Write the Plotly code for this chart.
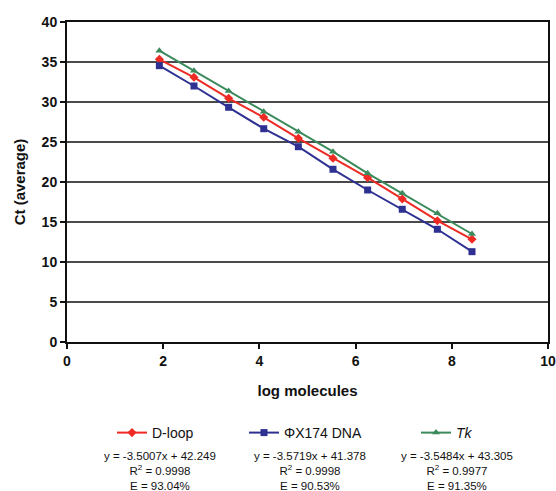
import plotly.graph_objects as go

log_molecules = [1.92, 2.64, 3.36, 4.09, 4.81, 5.53, 6.25, 6.97, 7.70, 8.42]
dloop_ct = [35.34, 33.09, 30.46, 28.09, 25.46, 22.96, 20.54, 17.88, 15.16, 12.84]
phix_ct = [34.54, 32.00, 29.34, 26.66, 24.41, 21.59, 19.00, 16.59, 14.09, 11.29]
tk_ct = [36.42, 33.92, 31.38, 28.79, 26.29, 23.79, 21.09, 18.59, 16.09, 13.50]

series_names = ["D-loop", "ΦX174 DNA", "<i>Tk</i>"]
equations = ["y = -3.5007x + 42.249", "y = -3.5719x + 41.378", "y = -3.5484x + 43.305"]
r2_values = ["0.9998", "0.9998", "0.9977"]
efficiencies = ["93.04%", "90.53%", "91.35%"]

colors = ["#ee2a24", "#2e3192", "#3a8a5c"]
symbols = ["diamond", "square", "triangle-up"]
values = [dloop_ct, phix_ct, tk_ct]
legend_ids = ["legend", "legend2", "legend3"]

W, H = 556, 491
# plot area in page pixels: left 67, right 548, top 22, bottom 342
L, R, T, B = 67, 556 - 548, 22, 491 - 342
PL, PT = 67, 22
pw, ph = 548 - 67, 342 - 22

def px_x(p):
    return (p - PL) / pw

def px_y(p):
    return 1 - (p - PT) / ph

fig = go.Figure()
for name, ys, c, s, lg in zip(series_names, values, colors, symbols, legend_ids):
    fig.add_trace(go.Scatter(
        x=log_molecules, y=ys, mode="lines+markers", name=name,
        line=dict(color=c, width=2),
        marker=dict(color=c, symbol=s, size=7),
        legend=lg,
    ))

legend_left = [112, 244, 416]
legend_common = dict(orientation="h", yanchor="middle", xanchor="left",
                     font=dict(family="Liberation Sans, Arial", size=14, color="#111"),
                     bgcolor="rgba(0,0,0,0)", borderwidth=0)
fig.update_layout(
    legend=dict(x=px_x(legend_left[0]), y=px_y(433), **legend_common),
    legend2=dict(x=px_x(legend_left[1]), y=px_y(433), **legend_common),
    legend3=dict(x=px_x(legend_left[2]), y=px_y(433), **legend_common),
)

eq_centers = [160, 310, 457]
for cx, eq, r2, e in zip(eq_centers, equations, r2_values, efficiencies):
    txt = eq + "<br>R<sup>2</sup> = " + r2 + "<br>E = " + e
    fig.add_annotation(x=px_x(cx), y=px_y(471), xref="paper", yref="paper",
                       text=txt, showarrow=False, xanchor="center", yanchor="middle",
                       align="center",
                       font=dict(family="Liberation Sans, Arial", size=11.5, color="#111"))

fig.update_layout(
    width=W, height=H,
    margin=dict(l=L, r=R, t=T, b=B, autoexpand=False),
    plot_bgcolor="white", paper_bgcolor="white",
    showlegend=True,
    font=dict(family="Liberation Sans, Arial", color="#111"),
)
fig.update_xaxes(
    range=[0, 10], dtick=2, tick0=0,
    showline=True, linecolor="#111", linewidth=2, mirror=True,
    ticks="outside", ticklen=5, tickwidth=2, tickcolor="#111",
    showgrid=False, zeroline=False, ticklabeloverflow="allow",
    tickfont=dict(family="Liberation Sans, Arial", size=14, color="#111", weight="bold"),
    title=dict(text="<b>log molecules</b>", font=dict(size=15, color="#111"), standoff=18),
)
fig.update_yaxes(
    range=[0, 40], dtick=5, tick0=0,
    showline=True, linecolor="#111", linewidth=2, mirror=True,
    ticks="outside", ticklen=5, tickwidth=2, tickcolor="#111",
    showgrid=True, gridcolor="#4a4a4a", gridwidth=1.5, zeroline=False,
    tickfont=dict(family="Liberation Sans, Arial", size=14, color="#111", weight="bold"),
    title=dict(text="<b>Ct (average)</b>", font=dict(size=15, color="#111"), standoff=12),
)

fig.write_html("out.html",
               config={"displayModeBar": False},
               post_script="document.body.style.margin='0';document.body.style.overflow='hidden';")
